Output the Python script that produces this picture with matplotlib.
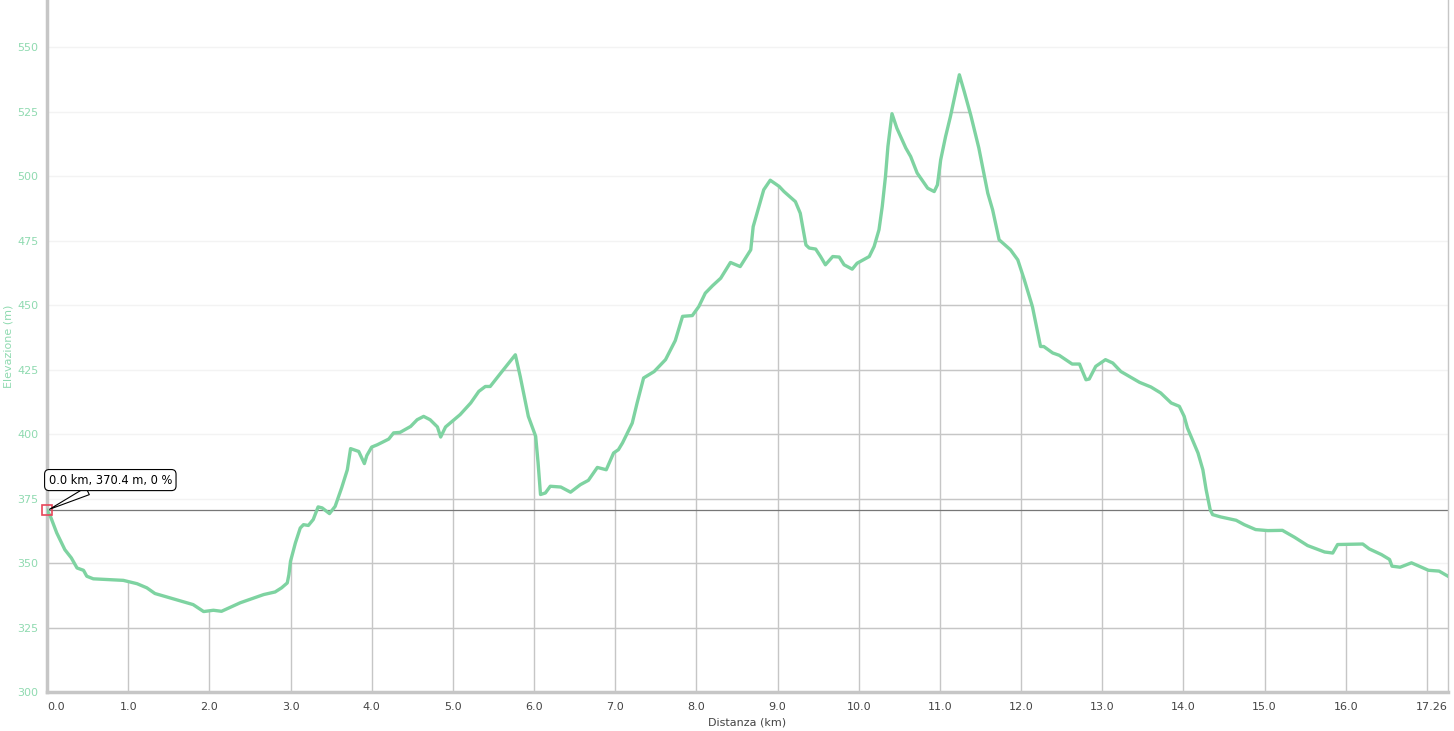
import numpy as np
import matplotlib
matplotlib.use('Agg')
from matplotlib import pyplot as plt
from matplotlib.patches import Polygon

# profilo altimetrico (km, m)
dist_km = [0.00, 0.04, 0.12, 0.22, 0.30, 0.37, 0.45, 0.49, 0.57, 0.94, 1.11, 1.23, 1.33,
           1.56, 1.80, 1.93, 2.05, 2.15, 2.38, 2.67, 2.81, 2.89, 2.96, 2.98, 3.00, 3.06,
           3.12, 3.16, 3.22, 3.28, 3.34, 3.39, 3.48, 3.55, 3.63, 3.70, 3.74, 3.84, 3.91,
           3.94, 4.00, 4.07, 4.21, 4.27, 4.35, 4.48, 4.56, 4.64, 4.72, 4.81, 4.85, 4.91,
           5.09, 5.22, 5.32, 5.40, 5.46, 5.59, 5.77, 5.83, 5.93, 6.02, 6.05, 6.08, 6.14,
           6.20, 6.33, 6.45, 6.57, 6.67, 6.78, 6.89, 6.98, 7.04, 7.09, 7.21, 7.27, 7.35,
           7.48, 7.62, 7.74, 7.83, 7.95, 8.03, 8.11, 8.20, 8.30, 8.42, 8.54, 8.67, 8.70,
           8.83, 8.91, 9.02, 9.08, 9.22, 9.28, 9.35, 9.39, 9.47, 9.53, 9.59, 9.68, 9.76,
           9.82, 9.92, 9.98, 10.13, 10.19, 10.25, 10.29, 10.33, 10.36, 10.41, 10.47, 10.58,
           10.64, 10.72, 10.85, 10.93, 10.97, 11.01, 11.07, 11.13, 11.20, 11.24, 11.30,
           11.38, 11.48, 11.59, 11.65, 11.73, 11.87, 11.96, 12.04, 12.14, 12.24, 12.28,
           12.39, 12.47, 12.63, 12.72, 12.80, 12.84, 12.92, 13.04, 13.13, 13.23, 13.46,
           13.60, 13.72, 13.85, 13.95, 14.01, 14.05, 14.18, 14.24, 14.28, 14.33, 14.36,
           14.46, 14.65, 14.75, 14.89, 15.04, 15.22, 15.37, 15.53, 15.74, 15.84, 15.90,
           16.21, 16.29, 16.44, 16.54, 16.57, 16.67, 16.81, 17.02, 17.15, 17.26]
elev_m = [370.4, 368.3, 361.7, 355.2, 352.0, 348.1, 347.2, 344.9, 343.9, 343.3, 342.0, 340.4,
          338.2, 336.1, 333.9, 331.2, 331.7, 331.3, 334.6, 337.8, 338.8, 340.4, 342.3, 345.5,
          350.7, 357.8, 363.6, 364.9, 364.6, 366.9, 371.8, 371.4, 369.2, 372.0, 379.2, 386.2,
          394.4, 393.3, 388.6, 391.7, 395.0, 395.9, 398.1, 400.5, 400.7, 403.0, 405.6, 406.9,
          405.6, 402.8, 398.9, 402.8, 407.6, 412.1, 416.6, 418.5, 418.5, 423.7, 430.8, 422.4,
          406.9, 399.2, 388.9, 376.6, 377.2, 379.8, 379.5, 377.5, 380.4, 382.1, 387.1, 386.2,
          392.7, 394.0, 396.6, 404.3, 412.1, 421.8, 424.3, 428.9, 436.3, 445.7, 446.0, 449.5,
          454.7, 457.6, 460.5, 466.6, 465.0, 471.5, 480.5, 494.8, 498.5, 496.1, 494.1, 490.2,
          485.7, 473.4, 472.2, 471.8, 468.9, 465.7, 468.9, 468.7, 465.7, 464.0, 466.3, 468.9,
          472.8, 479.3, 488.3, 500.0, 511.6, 524.3, 518.7, 511.0, 507.7, 501.3, 495.4, 494.1,
          496.7, 506.4, 515.4, 523.2, 533.5, 539.4, 532.9, 523.8, 511.0, 493.5, 487.0, 475.4,
          471.5, 467.6, 459.9, 449.5, 434.0, 434.0, 431.5, 430.6, 427.2, 427.2, 421.1, 421.4,
          426.3, 428.9, 427.6, 424.3, 420.1, 418.3, 416.0, 412.1, 410.8, 406.9, 402.4, 392.7,
          386.2, 378.5, 370.7, 368.8, 367.9, 366.6, 364.9, 363.0, 362.6, 362.7, 360.0, 356.8,
          354.3, 353.9, 357.2, 357.4, 355.5, 353.3, 351.4, 348.8, 348.4, 350.1, 347.2, 346.9,
          344.9]

total_km = 17.26
x_ticks = list(range(0, 18))
x_labels = ['%.1f' % t for t in range(0, 17)] + ['']
y_ticks = list(range(300, 551, 25))
cursor_txt = '0.0 km, 370.4 m, 0 %'

verde = '#7ed3a1'
grigio = '#c6c6c6'

fig = plt.figure(figsize=(14.54, 7.31), dpi=100)
ax = fig.add_axes([47 / 1454, 1 - 692 / 731, (1448 - 47) / 1454, 692 / 731])
ax.set_xlim(0, total_km)
ax.set_ylim(300, 568.4)

# griglia chiara sopra, piu' scura sotto il profilo
for t in y_ticks[1:]:
    ax.axhline(t, color='#f3f3f3', lw=1, zorder=0)
verts = list(zip(dist_km, elev_m)) + [(total_km, 300), (0, 300)]
clip = Polygon(verts, closed=True, transform=ax.transData, facecolor='none', edgecolor='none')
ax.add_patch(clip)
for t in y_ticks[1:]:
    l = ax.axhline(t, color=grigio, lw=1, zorder=1)
    l.set_clip_path(clip)
for t in x_ticks[1:]:
    l = ax.axvline(t, color=grigio, lw=1, zorder=1)
    l.set_clip_path(clip)

ax.plot(dist_km, elev_m, color=verde, lw=2.4, zorder=3, solid_joinstyle='round')

# cursore
ax.axhline(elev_m[0], color='#777777', lw=0.9, zorder=2)
ax.plot([dist_km[0]], [elev_m[0]], marker='s', ms=7, mfc='none', mec='#e8455a', mew=1.2,
        zorder=5, clip_on=False)
ax.annotate(cursor_txt, xy=(dist_km[0], elev_m[0]), xytext=(0.78, 382.2),
            ha='center', va='center', fontsize=8.3, color='black',
            bbox=dict(boxstyle='round,pad=0.35,rounding_size=0.4', fc='white', ec='black', lw=0.8),
            arrowprops=dict(arrowstyle='wedge,tail_width=0.7,shrink_factor=0.5', fc='white',
                            ec='black', lw=0.8, shrinkA=0, shrinkB=2), zorder=6)

ax.set_xticks(x_ticks)
ax.set_xticklabels(x_labels)
ax.text(total_km, 300 - 4.0, '17.26', ha='right', va='top',
        fontsize=8, color='#444444', clip_on=False)
ax.set_yticks(y_ticks)
ax.tick_params(axis='x', length=0, pad=7, labelsize=8, labelcolor='#444444')
ax.tick_params(axis='y', length=0, pad=6, labelsize=8, labelcolor='#8fdab0')
ax.get_xticklabels()[0].set_ha('left')

ax.set_xlabel('Distanza (km)', fontsize=8, color='#444444', labelpad=4)
ax.set_ylabel('Elevazione (m)', fontsize=8, color='#8fdab0', labelpad=3)

ax.spines['top'].set_visible(False)
ax.spines['left'].set_color(grigio)
ax.spines['left'].set_linewidth(2.5)
ax.spines['bottom'].set_color(grigio)
ax.spines['bottom'].set_linewidth(2.5)
ax.spines['right'].set_color(grigio)
ax.spines['right'].set_linewidth(1)

fig.savefig('out.png', dpi=100)
